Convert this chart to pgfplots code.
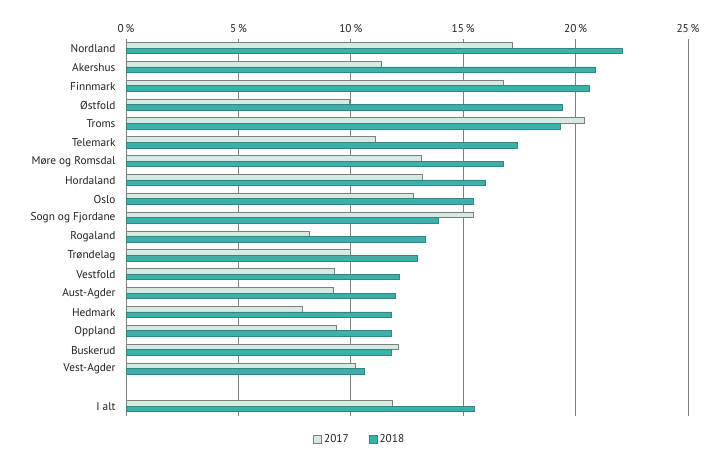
\documentclass[border=0pt]{standalone}
\usepackage{pgfplots}
\pgfplotsset{compat=1.18}
\usepackage{fontspec}
\setmainfont{PT Sans}
\definecolor{lite}{HTML}{D5EBE2}
\definecolor{liteb}{HTML}{7F7F7F}
\definecolor{teal1}{HTML}{3DB1A9}
\definecolor{tealb}{HTML}{2B8A83}
\definecolor{gridc}{HTML}{808080}
\definecolor{txt}{HTML}{231F20}
\begin{document}
\begin{tikzpicture}
\useasboundingbox (0,0) rectangle (719bp,468bp);
\begin{axis}[
  at={(126bp,52.4bp)}, anchor=south west,
  scale only axis, width=562bp, height=377bp,
  xmin=0, xmax=25, ymin=-0.5, ymax=19.5,
  xtick={0,5,...,25},
  xticklabel pos=upper,
  xticklabel={\pgfmathprintnumber{\tick}\,\%},
  /pgf/number format/assume math mode=true,
  ytick={0,2,3,...,19},
  yticklabels={I alt,Vest-Agder,Buskerud,Oppland,Hedmark,Aust-Agder,Vestfold,Trøndelag,Rogaland,Sogn og Fjordane,Oslo,Hordaland,Møre og Romsdal,Telemark,Troms,Østfold,Finnmark,Akershus,Nordland},
  major tick length=0pt,
  tick label style={font=\fontsize{11.3bp}{13bp}\selectfont, text=txt},
  xticklabel style={yshift=2bp},
  yticklabel style={xshift=-7bp, yshift=-0.5bp},
  axis line style={draw=none},
  xmajorgrids, grid style={gridc, line width=0.9bp},
  extra x ticks={0}, extra x tick labels={},
  extra x tick style={grid style={gridc, line width=1bp}},
  xbar, bar width=5.6bp,
  legend style={at={(0.416,-0.063)}, anchor=center, draw=none, legend columns=2,
    font=\fontsize{11.3bp}{13bp}\selectfont, text=txt,
    /tikz/every even column/.append style={column sep=18bp}},
  legend image code/.code={\draw[#1, line width=0.8bp] (0bp,-4bp) rectangle (8bp,4bp);},
]
\addplot[fill=lite, draw=liteb, line width=0.7bp, bar shift=2.8bp] coordinates {
(17.2,19) (11.35,18) (16.8,17) (9.93,16) (20.4,15) (11.1,14) (13.15,13) (13.2,12) (12.8,11) (15.45,10) (8.15,9) (9.98,8) (9.28,7) (9.22,6) (7.85,5) (9.35,4) (12.1,3) (10.2,2) (11.85,0)};
\addplot[fill=teal1, draw=tealb, line width=0.7bp, bar shift=-2.8bp] coordinates {
(22.1,19) (20.9,18) (20.6,17) (19.4,16) (19.3,15) (17.4,14) (16.8,13) (16.0,12) (15.45,11) (13.9,10) (13.3,9) (12.97,8) (12.15,7) (12.0,6) (11.8,5) (11.8,4) (11.8,3) (10.6,2) (15.5,0)};
\legend{2017,2018}
\end{axis}
\end{tikzpicture}
\end{document}
